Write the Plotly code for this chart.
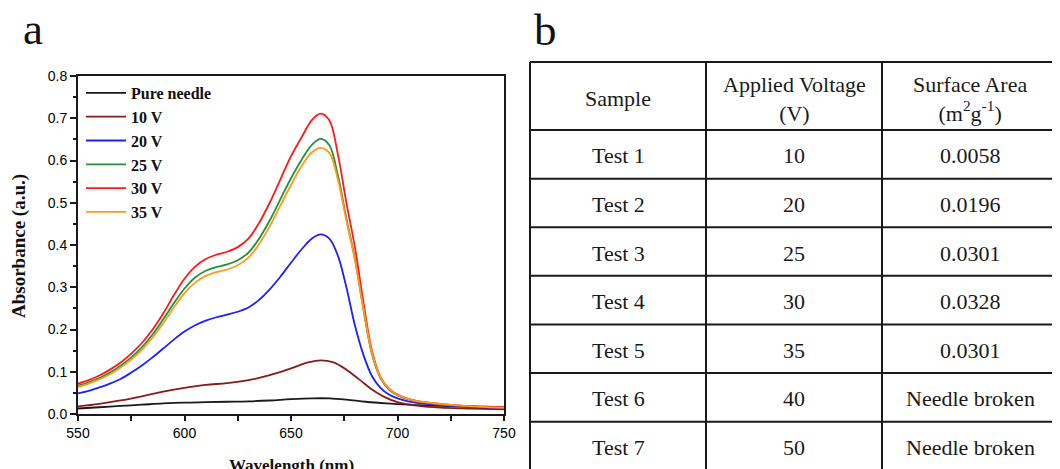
import plotly.graph_objects as go

# ---------------- data: UV-vis spectra (panel a) ----------------
wl_black = [550, 560, 570, 580, 590, 600, 610, 620, 630, 640, 650, 660, 668, 676, 685, 695, 705, 720, 735, 750]
ab_black = [0.013, 0.016, 0.019, 0.022, 0.025, 0.027, 0.028, 0.029, 0.030, 0.032, 0.035, 0.037, 0.037, 0.034, 0.029, 0.025, 0.022, 0.019, 0.017, 0.016]

wl_10 = [550, 560, 570, 580, 590, 600, 610, 620, 630, 640, 650, 658, 664, 670, 676, 682, 688, 694, 700, 710, 720, 735, 750]
ab_10 = [0.018, 0.024, 0.032, 0.042, 0.053, 0.062, 0.069, 0.073, 0.080, 0.092, 0.108, 0.122, 0.127, 0.122, 0.105, 0.082, 0.058, 0.040, 0.028, 0.019, 0.015, 0.013, 0.011]

wl = [550, 555, 560, 565, 570, 575, 580, 585, 590, 595, 600, 605, 610, 615, 620, 625, 630, 635, 640, 645,
      650, 655, 660, 664, 668, 672, 676, 680, 684, 688, 692, 696, 700, 705, 710, 720, 730, 740, 750]
ab_20 = [0.049, 0.055, 0.063, 0.072, 0.083, 0.098, 0.115, 0.134, 0.155, 0.176, 0.195, 0.210, 0.221, 0.229, 0.235, 0.242,
         0.252, 0.270, 0.295, 0.325, 0.358, 0.390, 0.416, 0.425, 0.415, 0.375, 0.300, 0.210, 0.140, 0.090, 0.062, 0.046,
         0.037, 0.030, 0.026, 0.021, 0.018, 0.016, 0.015]
ab_25 = [0.067, 0.075, 0.085, 0.098, 0.114, 0.134, 0.158, 0.188, 0.224, 0.262, 0.297, 0.323, 0.339, 0.348, 0.354, 0.364,
         0.382, 0.415, 0.458, 0.508, 0.558, 0.602, 0.638, 0.651, 0.636, 0.565, 0.463, 0.367, 0.248, 0.142, 0.085, 0.058,
         0.044, 0.035, 0.029, 0.023, 0.019, 0.017, 0.015]
ab_30 = [0.072, 0.080, 0.091, 0.105, 0.122, 0.143, 0.168, 0.200, 0.238, 0.281, 0.320, 0.349, 0.367, 0.377, 0.384, 0.395,
         0.415, 0.452, 0.500, 0.555, 0.610, 0.655, 0.697, 0.711, 0.695, 0.615, 0.500, 0.395, 0.265, 0.150, 0.088, 0.060,
         0.046, 0.036, 0.030, 0.024, 0.020, 0.018, 0.016]
ab_35 = [0.064, 0.072, 0.082, 0.094, 0.110, 0.129, 0.152, 0.181, 0.215, 0.252, 0.286, 0.311, 0.327, 0.336, 0.342, 0.352,
         0.370, 0.402, 0.444, 0.493, 0.542, 0.587, 0.620, 0.630, 0.618, 0.555, 0.458, 0.365, 0.250, 0.145, 0.087, 0.060,
         0.045, 0.036, 0.030, 0.024, 0.020, 0.017, 0.015]

series_names = ["Pure needle", "10 V", "20 V", "25 V", "30 V", "35 V"]
series_x = [wl_black, wl_10, wl, wl, wl, wl]
series_y = [ab_black, ab_10, ab_20, ab_25, ab_30, ab_35]
series_colors = ["#1a1a1a", "#8b1a1a", "#1f1fff", "#22913c", "#ff1a1a", "#ff9a1a"]

x_ticks = [550, 600, 650, 700, 750]
y_ticks = [0.0, 0.1, 0.2, 0.3, 0.4, 0.5, 0.6, 0.7, 0.8]

# ---------------- data: table (panel b) ----------------
tbl_header = ["Sample", "Applied Voltage<br>(V)", "Surface Area<br>(m<sup>2</sup>g<sup>-1</sup>)"]
tbl_sample = ["Test 1", "Test 2", "Test 3", "Test 4", "Test 5", "Test 6", "Test 7"]
tbl_voltage = ["10", "20", "25", "30", "35", "40", "50"]
tbl_area = ["0.0058", "0.0196", "0.0301", "0.0328", "0.0301", "Needle broken", "Needle broken"]

# ---------------- figure ----------------
# the page body has an 8 px margin: the figure is drawn at (8, 8) in the window
OFF = 8
W, H = 1060 - OFF, 469 - OFF


def px(xs):  # window x pixel -> paper fraction
    return (xs - OFF) / W


def py(ys):  # window y pixel -> paper fraction
    return 1 - (ys - OFF) / H


fig = go.Figure()

for name, xs, ys, col in zip(series_names, series_x, series_y, series_colors):
    fig.add_trace(go.Scatter(x=xs, y=ys, mode="lines", name=name,
                             line=dict(color=col, width=1.8, shape="spline", smoothing=1.0),
                             xaxis="x", yaxis="y"))

SERIF = "Liberation Serif"
SANS = "Liberation Sans"

# plot area of panel a in window pixels
L, R, T, B = 78, 504, 76, 414

fig.update_layout(
    template="none",
    width=W, height=H,
    margin=dict(l=0, r=0, t=0, b=0, pad=0, autoexpand=False),
    paper_bgcolor="white", plot_bgcolor="white",
    showlegend=True,
    legend=dict(x=px(81), y=py(76), xanchor="left", yanchor="top",
                bgcolor="rgba(0,0,0,0)", borderwidth=0,
                font=dict(family=SERIF, size=16, color="#111", weight="bold"),
                itemwidth=40, tracegroupgap=0),
    xaxis=dict(domain=[px(L), px(R)], range=[550, 750], anchor="y", automargin=False,
               showline=True, linecolor="#1a1a1a", linewidth=2, mirror=True,
               showgrid=False, zeroline=False,
               tickmode="array", tickvals=x_ticks,
               ticks="outside", ticklen=5, tickwidth=1.5, tickcolor="#1a1a1a",
               minor=dict(dtick=25, ticks="outside", ticklen=5, tickwidth=1.5, tickcolor="#1a1a1a", showgrid=False),
               tickfont=dict(family=SANS, size=14, color="#000")),
    yaxis=dict(domain=[py(B), py(T)], range=[0, 0.8], anchor="x", automargin=False,
               showline=True, linecolor="#1a1a1a", linewidth=2, mirror=True,
               showgrid=False, zeroline=False,
               tickmode="array", tickvals=y_ticks, tickformat=".1f",
               ticks="outside", ticklen=6, tickwidth=1.5, tickcolor="#1a1a1a",
               minor=dict(dtick=0.05, ticks="outside", ticklen=3, tickwidth=1.5, tickcolor="#1a1a1a", showgrid=False),
               tickfont=dict(family=SANS, size=14, color="#000")),
)

# ---- table axes (panel b) ----
# column unit = 176 px starting at window x=530; row unit = 48.6 px starting at window y=62
TX0, CW = 530, 176.0
TY0, RH = 62, 48.6
HEAD = 1.4  # header row height in row units
dx0, dx1 = px(520), 1.0
dy0, dy1 = 0.0, py(45)
xr = [(520 - TX0) / CW, (1060 - TX0) / CW]
yr = [(469 - TY0) / RH, (45 - TY0) / RH]
fig.update_layout(
    xaxis2=dict(domain=[dx0, dx1], range=xr, visible=False, anchor="y2", fixedrange=True, automargin=False),
    yaxis2=dict(domain=[dy0, dy1], range=yr, visible=False, anchor="x2", fixedrange=True, automargin=False),
)

ncols = 3
nrows = len(tbl_sample)
row_edges = [0, HEAD] + [HEAD + i + 1 for i in range(nrows)]
line_style = dict(color="#1a1a1a", width=2)
shapes = []
for yv in row_edges:
    shapes.append(dict(type="line", xref="x2", yref="y2", x0=0, x1=ncols, y0=yv, y1=yv, line=line_style))
for c in range(ncols + 1):
    shapes.append(dict(type="line", xref="x2", yref="y2", x0=c, x1=c, y0=0, y1=row_edges[-1], line=line_style))

TFONT = dict(family=SERIF, size=22, color="#1a1a1a")
annotations = []
for c, txt in enumerate(tbl_header):
    annotations.append(dict(xref="x2", yref="y2", x=c + 0.5, y=HEAD / 2 + 0.06, text=txt, showarrow=False,
                            xanchor="center", yanchor="middle", font=TFONT))
columns = [tbl_sample, tbl_voltage, tbl_area]
for c, colvals in enumerate(columns):
    for r, txt in enumerate(colvals):
        annotations.append(dict(xref="x2", yref="y2", x=c + 0.5, y=HEAD + r + 0.53, text=txt, showarrow=False,
                                xanchor="center", yanchor="middle", font=TFONT))

# panel labels and axis titles
annotations.append(dict(xref="paper", yref="paper", x=px(21), y=py(29), text="a", showarrow=False,
                        xanchor="left", yanchor="middle", font=dict(family=SERIF, size=45, color="#111")))
annotations.append(dict(xref="paper", yref="paper", x=px(532), y=py(30), text="b", showarrow=False,
                        xanchor="left", yanchor="middle", font=dict(family=SERIF, size=45, color="#111")))
annotations.append(dict(xref="paper", yref="paper", x=px((L + R) / 2), y=py(465.5), text="Wavelength (nm)",
                        showarrow=False, xanchor="center", yanchor="middle",
                        font=dict(family=SERIF, size=17, color="#111", weight="bold")))
annotations.append(dict(xref="paper", yref="paper", x=px(19), y=py(246), text="Absorbance (a.u.)",
                        showarrow=False, xanchor="center", yanchor="middle", textangle=-90,
                        font=dict(family=SERIF, size=19, color="#111", weight="bold")))

fig.update_layout(shapes=shapes, annotations=annotations)

fig.write_html("out.html")
